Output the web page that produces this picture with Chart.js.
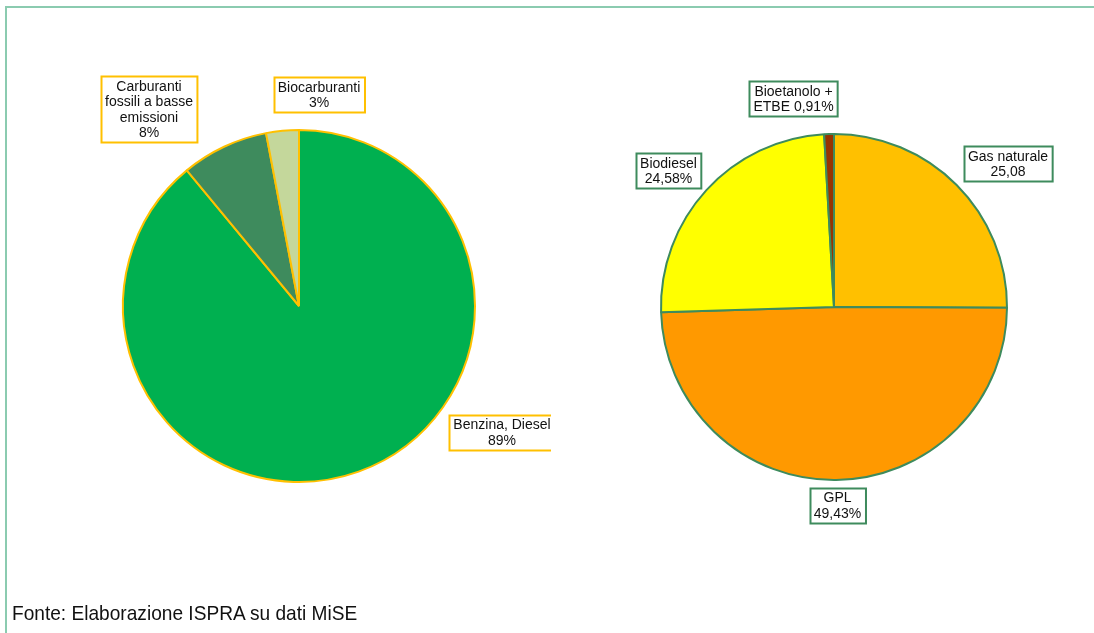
<!DOCTYPE html>
<html lang="it">
<head>
<meta charset="UTF-8">
<title>Carburanti</title>
<script src="https://cdn.jsdelivr.net/npm/chart.js"></script>
<style>
  html, body { margin: 0; padding: 0; background: #fff; }
  #page { position: relative; width: 1094px; height: 633px; overflow: hidden; }
  #frame { position: absolute; left: 5px; top: 6px; right: 0; bottom: 0;
           border-top: 2px solid #8bcbb0; border-left: 2px solid #8bcbb0; }
  #leftChart { position: absolute; left: 0; top: 0; }
  #rightChart { position: absolute; left: 551px; top: 0; }
  #fonte { position: absolute; left: 12px; top: 602px; line-height: 21px;
           font-family: "Liberation Sans", Arial, sans-serif;
           font-size: 21px; color: #111; white-space: nowrap;
           transform: scaleX(0.91); transform-origin: 0 0; }
</style>
</head>
<body>
<div id="page">
  <div id="frame"></div>
  <canvas id="leftChart" width="551" height="633"></canvas>
  <canvas id="rightChart" width="543" height="633"></canvas>
  <div id="fonte">Fonte: Elaborazione ISPRA su dati MiSE</div>
</div>

<script>
    // torta di sinistra: composizione dei carburanti (%)
    const leftCategories = ["Benzina, Diesel", "Carburanti fossili a basse emissioni", "Biocarburanti"];
    const leftValues = [89, 8, 3];
    const leftLabels = [
        ["Benzina, Diesel", "89%"],
        ["Carburanti", "fossili a basse", "emissioni", "8%"],
        ["Biocarburanti", "3%"]
    ];

    // torta di destra: dettaglio carburanti a basse emissioni (%)
    const rightCategories = ["Gas naturale", "GPL", "Biodiesel", "Bioetanolo + ETBE"];
    const rightValues = [25.08, 49.43, 24.58, 0.91];
    const rightLabels = [
        ["Gas naturale", "25,08"],
        ["GPL", "49,43%"],
        ["Biodiesel", "24,58%"],
        ["Bioetanolo +", "ETBE 0,91%"]
    ];

    // centro delle etichette (coordinate del canvas)
    const leftLabelPos = [[502, 432], [149, 109], [319, 94.5]];
    const rightLabelPos = [[457, 163.5], [286.5, 505], [117.5, 170.5], [242.5, 98.5]];

    const labelFont = "14px 'Liberation Sans', Arial, sans-serif";
    const lineH = 15.5;

    // disegna le etichette in riquadri
    const boxLabels = {
        id: "boxLabels",
        afterDraw(chart, args, opts) {
            const ctx = chart.ctx;
            ctx.save();
            ctx.font = labelFont;
            ctx.textAlign = "center";
            ctx.textBaseline = "middle";
            opts.lines.forEach((lines, i) => {
                const [cx, cy] = opts.pos[i];
                const w = Math.max(...lines.map(l => ctx.measureText(l).width)) + 8;
                const h = lines.length * lineH + 4;
                const x = Math.round(cx - w / 2) + 0.5;
                const y = Math.round(cy - h / 2) + 0.5;
                ctx.fillStyle = "#fff";
                ctx.fillRect(x, y, w, h);
                ctx.strokeStyle = opts.border;
                ctx.lineWidth = 2;
                ctx.strokeRect(x, y, w, h);
                ctx.fillStyle = "#111";
                lines.forEach((l, j) => {
                    ctx.fillText(l, cx, cy - (lines.length - 1) * lineH / 2 + j * lineH + 1);
                });
            });
            ctx.restore();
        }
    };

    const leftCtx = document.getElementById("leftChart").getContext("2d");
    new Chart(leftCtx, {
        type: "pie",
        data: {
            labels: leftCategories,
            datasets: [{
                data: leftValues,
                backgroundColor: ["#00b050", "#3e8b5d", "#c4d79b"],
                borderColor: "#ffc000",
                borderWidth: 2
            }]
        },
        options: {
            responsive: false,
            animation: false,
            layout: { padding: { left: 122, right: 75, top: 129, bottom: 150 } },
            plugins: {
                legend: { display: false },
                tooltip: { enabled: false },
                boxLabels: { lines: leftLabels, pos: leftLabelPos, border: "#ffc000" }
            }
        },
        plugins: [boxLabels]
    });

    const rightCtx = document.getElementById("rightChart").getContext("2d");
    new Chart(rightCtx, {
        type: "pie",
        data: {
            labels: rightCategories,
            datasets: [{
                data: rightValues,
                backgroundColor: ["#ffc000", "#ff9900", "#ffff00", "#993300"],
                borderColor: "#3e8b5d",
                borderWidth: 2
            }]
        },
        options: {
            responsive: false,
            animation: false,
            layout: { padding: { left: 109, right: 86, top: 133, bottom: 152 } },
            plugins: {
                legend: { display: false },
                tooltip: { enabled: false },
                boxLabels: { lines: rightLabels, pos: rightLabelPos, border: "#3e8b5d" }
            }
        },
        plugins: [boxLabels]
    });
</script>
</body>
</html>
